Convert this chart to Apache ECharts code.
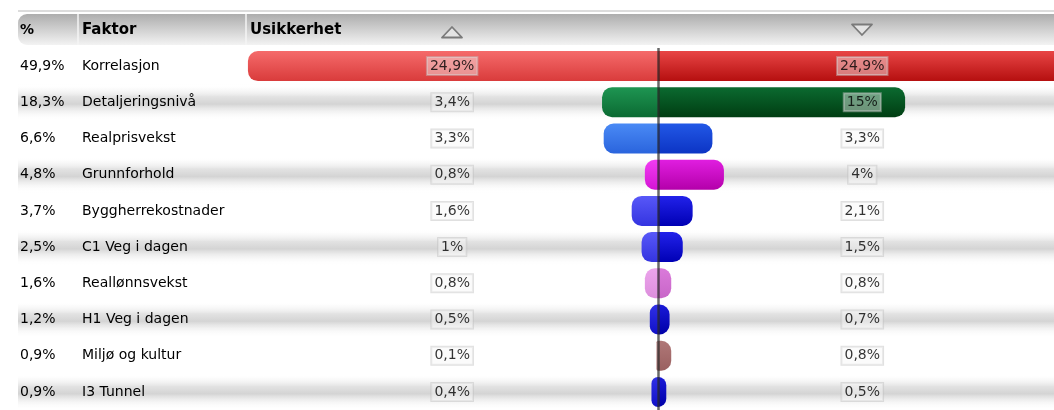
<!DOCTYPE html>
<html>
<head>
<meta charset="utf-8">
<script src="https://cdn.jsdelivr.net/npm/echarts@6/dist/echarts.min.js"></script>
<style>
	html, body { margin: 0; padding: 0; background: #fff; }
	#main { width: 1054px; height: 410px; }
</style>
</head>
<body>
<div id="main"></div>
<script>
	var factors = ['Korrelasjon', 'Detaljeringsnivå', 'Realprisvekst', 'Grunnforhold', 'Byggherrekostnader',
		'C1 Veg i dagen', 'Reallønnsvekst', 'H1 Veg i dagen', 'Miljø og kultur', 'I3 Tunnel'];
	var shares = [49.9, 18.3, 6.6, 4.8, 3.7, 2.5, 1.6, 1.2, 0.9, 0.9];
	var upside = [24.9, 3.4, 3.3, 0.8, 1.6, 1, 0.8, 0.5, 0.1, 0.4];
	var downside = [24.9, 15, 3.3, 4, 2.1, 1.5, 0.8, 0.7, 0.8, 0.5];

	// bar colours per row: left top, left bottom, right top, right bottom
	var palette = [
		['#f56b6b', '#d93b3b', '#e84545', '#b50f0f'],
		['#1e9552', '#0b6a32', '#0b6a30', '#003d12'],
		['#4a8af5', '#2a64dd', '#2258e6', '#0c34c4'],
		['#f23cf2', '#d414d4', '#e01ee0', '#b400aa'],
		['#5858f8', '#3434e0', '#2222ea', '#0000b4'],
		['#5858f8', '#3434e0', '#2222ea', '#0000b4'],
		['#eca4ec', '#dc8edc', '#da7ada', '#c866c8'],
		['#3030e6', '#1010c8', '#1a1ad8', '#0000a8'],
		['#c89a9a', '#b88080', '#b07878', '#9a6060'],
		['#3030e6', '#1010c8', '#1a1ad8', '#0000a8']
	];

	var font = 'DejaVu Sans';
	var xMin = -38.86, xMax = 24.04;

	function pct(v) {
		return String(v).replace('.', ',') + '%';
	}

	function vgrad(a, b) {
		return new echarts.graphic.LinearGradient(0, 0, 0, 1, [
			{ offset: 0, color: a }, { offset: 1, color: b }
		]);
	}

	var labelStyle = {
		show: true,
		position: 'inside',
		fontFamily: font,
		fontSize: 14,
		color: '#000',
		backgroundColor: 'rgba(246,246,246,0.55)',
		borderColor: 'rgba(190,190,190,0.6)',
		borderWidth: 1,
		padding: [3, 3, 1, 3]
	};

	var chart = echarts.init(document.getElementById('main'));
	var option = {
		animation: false,
		grid: { left: 18, right: 0, top: 48, bottom: -4 },
		xAxis: {
			type: 'value',
			min: xMin,
			max: xMax,
			show: false
		},
		yAxis: {
			type: 'category',
			data: factors,
			inverse: true,
			axisLine: { show: false },
			axisTick: { show: false },
			splitLine: { show: false },
			splitArea: {
				show: true,
				areaStyle: {
					color: ['rgba(255,255,255,0)', {
						type: 'linear', x: 0, y: 0, x2: 0, y2: 1,
						colorStops: [
							{ offset: 0, color: 'rgba(255,255,255,0)' },
							{ offset: 0.35, color: '#e2e2e2' },
							{ offset: 0.55, color: '#d4d4d4' },
							{ offset: 1, color: 'rgba(255,255,255,0)' }
						]
					}]
				}
			},
			axisLabel: {
				inside: true,
				margin: 2,
				formatter: function (value, i) {
					return '{p|' + pct(shares[i]) + '}{f|' + value + '}';
				},
				rich: {
					p: { width: 62, fontFamily: font, fontSize: 14, color: '#000' },
					f: { fontFamily: font, fontSize: 14, color: '#000' }
				}
			}
		},
		series: [
			{
				name: 'opp',
				type: 'bar',
				stack: 'u',
				barWidth: 30,
				data: upside.map(function (v, i) {
					return { value: -v, itemStyle: { color: vgrad(palette[i][0], palette[i][1]) } };
				}),
				itemStyle: { borderRadius: [10, 0, 0, 10] }
			},
			{
				name: 'ned',
				type: 'bar',
				stack: 'u',
				barWidth: 30,
				data: downside.map(function (v, i) {
					// bars running past the right edge are cut off square
					var r = v > xMax ? 0 : 10;
					return {
						value: v,
						itemStyle: { color: vgrad(palette[i][2], palette[i][3]), borderRadius: [0, r, r, 0] }
					};
				}),
				markLine: {
					silent: true,
					symbol: 'none',
					label: { show: false },
					lineStyle: { color: 'rgba(40,40,40,0.7)', width: 2.5, type: 'solid' },
					data: [{ xAxis: 0 }]
				}
			},
			{
				name: 'opp-tekst',
				type: 'scatter',
				z: 5,
				symbolSize: 1,
				itemStyle: { color: 'rgba(0,0,0,0)' },
				data: upside.map(function (v, i) { return [-12.5, i, v]; }),
				label: Object.assign({}, labelStyle, {
					formatter: function (p) { return pct(p.value[2]); }
				})
			},
			{
				name: 'ned-tekst',
				type: 'scatter',
				z: 5,
				symbolSize: 1,
				itemStyle: { color: 'rgba(0,0,0,0)' },
				data: downside.map(function (v, i) { return [12.4, i, v]; }),
				label: Object.assign({}, labelStyle, {
					formatter: function (p) { return pct(p.value[2]); }
				})
			}
		],
		graphic: [
			{ type: 'rect', shape: { x: 18, y: 10, width: 1036, height: 2 }, style: { fill: '#dcdcdc' }, silent: true },
			{
				type: 'rect',
				shape: { x: 18, y: 14, width: 1036, height: 31, r: [9, 0, 0, 9] },
				style: { fill: vgrad('#adadad', '#f3f3f3') },
				silent: true
			},
			{ type: 'line', shape: { x1: 78, y1: 14, x2: 78, y2: 45 }, style: { stroke: '#f4f4f4', lineWidth: 1.5 } },
			{ type: 'line', shape: { x1: 246, y1: 14, x2: 246, y2: 45 }, style: { stroke: '#f4f4f4', lineWidth: 1.5 } },
			{ type: 'text', style: { x: 20, y: 30, text: '%', font: 'bold 14px ' + font, fill: '#000', verticalAlign: 'middle' } },
			{ type: 'text', style: { x: 82, y: 30, text: 'Faktor', font: 'bold 15px ' + font, fill: '#000', verticalAlign: 'middle' } },
			{ type: 'text', style: { x: 250, y: 30, text: 'Usikkerhet', font: 'bold 15px ' + font, fill: '#000', verticalAlign: 'middle' } },
			{
				type: 'polygon',
				shape: { points: [[442, 37.5], [462, 37.5], [452, 27]] },
				style: { fill: '#e4e4e4', stroke: '#7a7a7a', lineWidth: 1.8, lineJoin: 'round' }
			},
			{
				type: 'polygon',
				shape: { points: [[852, 24.5], [872, 24.5], [862, 35]] },
				style: { fill: '#e4e4e4', stroke: '#7a7a7a', lineWidth: 1.8, lineJoin: 'round' }
			}
		]
	};
	chart.setOption(option);
</script>
</body>
</html>
